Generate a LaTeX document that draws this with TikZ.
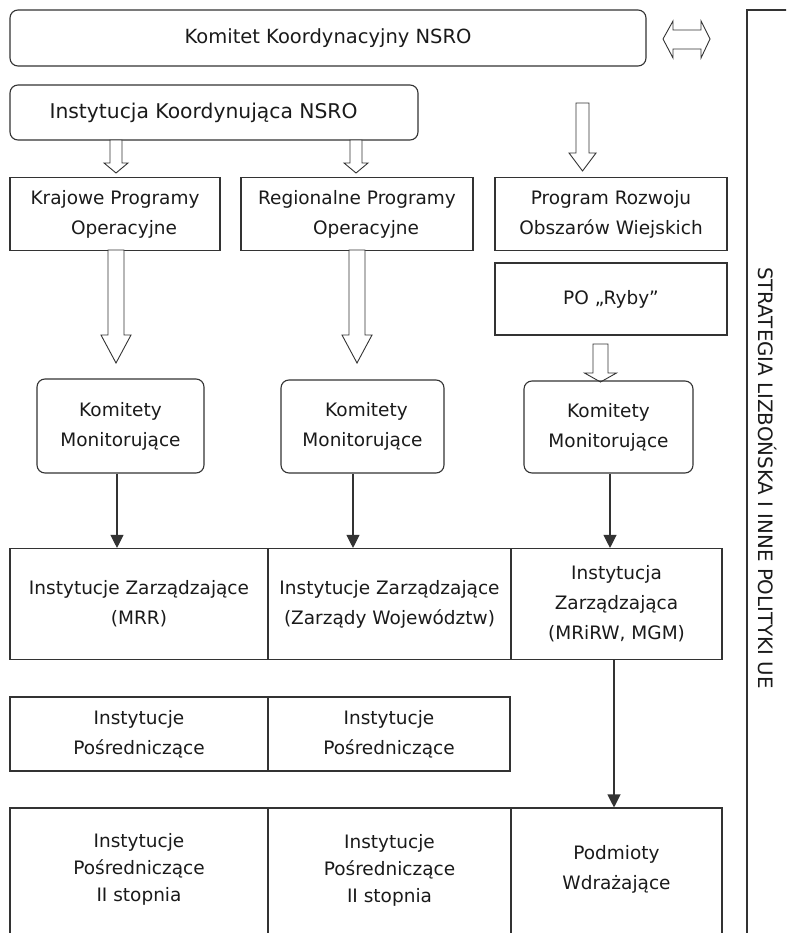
\documentclass[tikz,border=0pt]{standalone}
\usepackage{fontspec}
\setmainfont{DejaVu Sans}
\usetikzlibrary{arrows.meta}
\definecolor{ln}{HTML}{333333}
\definecolor{tx}{HTML}{1A1A1A}
\tikzset{
  base/.style={draw=ln, line width=1.1pt, text=tx, align=center, inner sep=0pt,
    font=\fontsize{18.5}{30}\selectfont},
  rbox/.style={base, rounded corners=8pt},
  sbox/.style={base},
  dense/.style={font=\fontsize{18.5}{27}\selectfont},
  blk/.style={draw=ln, line width=0.9pt, fill=white, line join=miter},
  thin/.style={draw=ln, line width=1.1pt, -{Triangle[width=13pt,length=13pt]}},
}
% hollow block arrow: x, ytop, yhead, ytip, shaft half width, head half width
\newcommand{\blkarrow}[6]{%
  \draw[blk] (#1-#5,#2) -- (#1+#5,#2) -- (#1+#5,#3) -- (#1+#6,#3) -- (#1,#4)
    -- (#1-#6,#3) -- (#1-#5,#3) -- cycle;}
\begin{document}
\begin{tikzpicture}[x=1pt,y=-1pt]
\useasboundingbox (0,0) rectangle (786,933);
\clip (0,0) rectangle (786,933);

% top row
\node[rbox, font=\fontsize{19.5}{30}\selectfont, minimum width=636pt, minimum height=56pt] (kk) at (328,38) {Komitet Koordynacyjny NSRO};
\node[rbox, font=\fontsize{20.3}{30}\selectfont, minimum width=408pt, minimum height=55pt] (ik) at (214,112.5) {Instytucja Koordynująca NSRO\hspace*{21pt}};

% double arrow
\draw[blk] (663,39) -- (673,21) -- (673,30) -- (701,30) -- (701,21) -- (710,39)
  -- (701,58) -- (701,49) -- (673,49) -- (673,58) -- cycle;

% right bracket
\draw[ln, line width=1.1pt] (790,10) -- (747,10) -- (747,940);
\node[text=tx, font=\fontsize{19.8}{22}\selectfont, rotate=-90] (lis) at (768,478) {STRATEGIA LIZBOŃSKA I INNE POLITYKI UE};

% programmes
\node[sbox, minimum width=210pt, minimum height=73pt] (kpo) at (115,214) {Krajowe Programy\\\hspace*{18pt}Operacyjne};
\node[sbox, minimum width=232pt, minimum height=73pt] (rpo) at (357,214) {Regionalne Programy\\\hspace*{18pt}Operacyjne};
\node[sbox, minimum width=232pt, minimum height=73pt] (prow) at (611,214) {Program Rozwoju\\Obszarów Wiejskich};
\node[sbox, minimum width=232pt, minimum height=72pt] (ryby) at (611,299) {PO „Ryby”};

% hollow arrows
\blkarrow{116}{140}{163}{173}{6}{12}
\blkarrow{356}{140}{163}{173}{6}{12}
\blkarrow{582.5}{103}{153}{171}{6.5}{13.5}
\blkarrow{116}{250}{335}{363}{8}{15}
\blkarrow{357}{250}{335}{363}{8}{15}
\blkarrow{600.5}{344}{373}{382}{7.5}{16}

% monitoring committees
\node[rbox, minimum width=167pt, minimum height=94pt] (km1) at (120.5,426) {Komitety\\Monitorujące};
\node[rbox, minimum width=163pt, minimum height=93pt] (km2) at (362.5,426.5) {\hspace*{8pt}Komitety\\Monitorujące};
\node[rbox, minimum width=169pt, minimum height=92pt] (km3) at (608.5,427) {Komitety\\Monitorujące};

% managing institutions
\node[sbox, minimum width=258pt, minimum height=111pt] (iz1) at (139,604) {Instytucje Zarządzające\\(MRR)};
\node[sbox, minimum width=243pt, minimum height=111pt] (iz2) at (389.5,604) {Instytucje Zarządzające\\(Zarządy Województw)};
\node[sbox, minimum width=211pt, minimum height=111pt] (iz3) at (616.5,604) {Instytucja\\Zarządzająca\\(MRiRW, MGM)};

% intermediate institutions
\node[sbox, minimum width=258pt, minimum height=74pt] (ip1) at (139,734) {Instytucje\\Pośredniczące};
\node[sbox, minimum width=242pt, minimum height=74pt] (ip2) at (389,734) {Instytucje\\Pośredniczące};

% bottom row
\node[sbox, minimum width=258pt, minimum height=150pt] (b1) at (139,883) {};
\node[sbox, minimum width=243pt, minimum height=150pt] (b2) at (389.5,883) {};
\node[sbox, minimum width=211pt, minimum height=150pt] (b3) at (616.5,883) {};
\node[dense, text=tx, align=center] (t1) at (139,869) {Instytucje\\Pośredniczące\\II stopnia};
\node[dense, text=tx, align=center] (t2) at (389.5,870) {Instytucje\\Pośredniczące\\II stopnia};
\node[text=tx, align=center, font=\fontsize{18.5}{30}\selectfont] (t3) at (616.5,869) {Podmioty\\Wdrażające};

% thin arrows
\draw[thin] (km1.south -| 117,0) -- (iz1.north -| 117,0);
\draw[thin] (km2.south -| 353,0) -- (iz2.north -| 353,0);
\draw[thin] (km3.south -| 610,0) -- (iz3.north -| 610,0);
\draw[thin] (iz3.south -| 614,0) -- (b3.north -| 614,0);
\end{tikzpicture}
\end{document}
